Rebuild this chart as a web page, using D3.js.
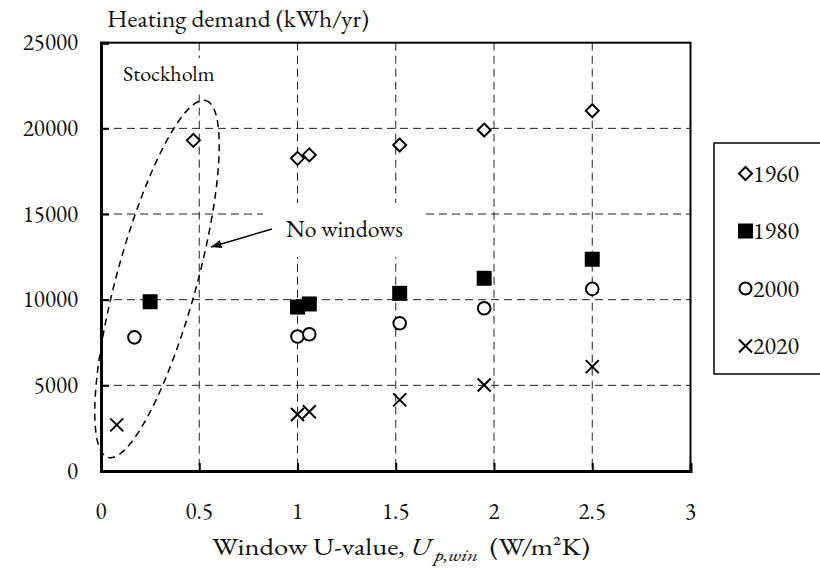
<!DOCTYPE html>
<meta charset="utf-8">
<html>
<head>
  <title>Heating demand vs window U-value</title>
  <style>
    body { margin: 0; background: #fff; }
    text { font-family: "EB Garamond", "Liberation Serif", "DejaVu Serif", serif; fill: #111; }
  </style>
</head>
<body>
  <svg id="chart" width="820" height="571"></svg>

  <script src="https://d3js.org/d3.v7.min.js"></script>
  <script>

    // Data
    var years = ["1960", "1980", "2000", "2020"];
    var uValues1960 = [0.47, 1.0, 1.06, 1.52, 1.95, 2.5];
    var demand1960 = [19300, 18250, 18450, 19030, 19900, 21030];
    var uValues1980 = [0.25, 1.0, 1.06, 1.52, 1.95, 2.5];
    var demand1980 = [9880, 9570, 9750, 10370, 11250, 12360];
    var uValues2000 = [0.17, 1.0, 1.06, 1.52, 1.95, 2.5];
    var demand2000 = [7800, 7850, 7980, 8620, 9500, 10630];
    var uValues2020 = [0.08, 1.0, 1.06, 1.52, 1.95, 2.5];
    var demand2020 = [2690, 3300, 3460, 4150, 5020, 6090];

    var xTicks = [0, 0.5, 1, 1.5, 2, 2.5, 3];
    var yTicks = [0, 5000, 10000, 15000, 20000, 25000];

    var series = [
      { name: years[0], shape: "diamond", u: uValues1960, q: demand1960 },
      { name: years[1], shape: "square",  u: uValues1980, q: demand1980 },
      { name: years[2], shape: "circle",  u: uValues2000, q: demand2000 },
      { name: years[3], shape: "cross",   u: uValues2020, q: demand2020 }
    ];

    var svg = d3.select("#chart");

    var x = d3.scaleLinear().domain([0, 3]).range([101, 690.5]);
    var y = d3.scaleLinear().domain([0, 25000]).range([471, 42.7]);

    // grid
    svg.append("g")
      .selectAll("line")
      .data(xTicks.slice(1, -1))
      .enter()
      .append("line")
      .attr("x1", function (d) { return x(d) })
      .attr("x2", function (d) { return x(d) })
      .attr("y1", y(25000))
      .attr("y2", y(0))
      .attr("stroke", "#222")
      .attr("stroke-width", 1)
      .style("stroke-dasharray", "8,5")

    svg.append("g")
      .selectAll("line")
      .data(yTicks.slice(1, -1))
      .enter()
      .append("line")
      .attr("x1", x(0))
      .attr("x2", x(3))
      .attr("y1", function (d) { return y(d) })
      .attr("y2", function (d) { return y(d) })
      .attr("stroke", "#222")
      .attr("stroke-width", 1)
      .style("stroke-dasharray", "8,5")

    // white boxes behind the labels inside the plot
    svg.append("rect")
      .attr("x", 263).attr("y", 203)
      .attr("width", 160).attr("height", 54)
      .attr("fill", "#fff")
    svg.append("rect")
      .attr("x", 115).attr("y", 58)
      .attr("width", 112).attr("height", 34)
      .attr("fill", "#fff")

    // frame
    svg.append("rect")
      .attr("x", x(0)).attr("y", y(25000))
      .attr("width", x(3) - x(0)).attr("height", y(0) - y(25000))
      .attr("fill", "none")
      .attr("stroke", "#000")
      .attr("stroke-width", 2)

    // axes (inward ticks)
    var xAxis = svg.append("g")
      .attr("transform", "translate(0," + y(0) + ")")
      .call(d3.axisTop(x).tickValues(xTicks).tickSize(8).tickFormat(""))
    xAxis.select(".domain").attr("stroke-width", 3)
    xAxis.selectAll(".tick line").attr("stroke-width", 2)

    var yAxis = svg.append("g")
      .attr("transform", "translate(" + x(0) + ",0)")
      .call(d3.axisRight(y).tickValues(yTicks).tickSize(8).tickFormat(""))
    yAxis.select(".domain").attr("stroke-width", 3)
    yAxis.selectAll(".tick line").attr("stroke-width", 2)

    // tick labels
    svg.append("g")
      .selectAll("text")
      .data(xTicks)
      .enter()
      .append("text")
      .attr("x", function (d) { return x(d) })
      .attr("y", 519)
      .attr("text-anchor", "middle")
      .style("font-size", "23px")
      .text(function (d) { return d })

    svg.append("g")
      .selectAll("text")
      .data(yTicks)
      .enter()
      .append("text")
      .attr("x", 78)
      .attr("y", function (d) { return y(d) + 7.5 })
      .attr("text-anchor", "end")
      .style("font-size", "23px")
      .text(function (d) { return d })

    // titles
    svg.append("text")
      .attr("x", 107).attr("y", 27)
      .style("font-size", "23px")
      .attr("textLength", 262)
      .attr("lengthAdjust", "spacingAndGlyphs")
      .text("Heating demand (kWh/yr)")

    var xt = svg.append("text")
      .attr("x", 212).attr("y", 555)
      .style("font-size", "23px")
      .attr("textLength", 378)
      .attr("lengthAdjust", "spacingAndGlyphs")
    xt.append("tspan").text("Window U-value, ")
    xt.append("tspan").style("font-style", "italic").text("U")
    xt.append("tspan").style("font-style", "italic").style("font-size", "17px")
      .attr("dy", 6).attr("dx", 3).text("p,win")
    xt.append("tspan").attr("dy", -6).text("\u00a0\u00a0(W/m\u00b2K)")

    // annotations
    svg.append("text")
      .attr("x", 123).attr("y", 81)
      .style("font-size", "22px")
      .text("Stockholm")

    svg.append("text")
      .attr("x", 286).attr("y", 237)
      .style("font-size", "23px")
      .attr("textLength", 117)
      .attr("lengthAdjust", "spacingAndGlyphs")
      .text("No windows")

    svg.append("defs").append("marker")
      .attr("id", "arrow")
      .attr("viewBox", "0 0 10 10")
      .attr("refX", 10).attr("refY", 5)
      .attr("markerWidth", 7).attr("markerHeight", 7)
      .attr("orient", "auto")
      .append("path")
      .attr("d", "M0,1 L10,5 L0,9 Z")
      .attr("fill", "#000")

    svg.append("line")
      .attr("x1", 272).attr("y1", 229)
      .attr("x2", 211).attr("y2", 247)
      .attr("stroke", "#000")
      .attr("stroke-width", 1.5)
      .attr("marker-end", "url(#arrow)")

    svg.append("ellipse")
      .attr("cx", 0).attr("cy", 0)
      .attr("rx", 185).attr("ry", 40)
      .attr("transform", "translate(157,279) rotate(-74.7)")
      .attr("fill", "none")
      .attr("stroke", "#000")
      .attr("stroke-width", 1.5)
      .style("stroke-dasharray", "7,5")

    // markers
    function drawMarker(g, shape, s) {
      if (shape === "diamond") {
        g.append("path")
          .attr("d", "M0," + (-s) + "L" + s + ",0L0," + s + "L" + (-s) + ",0Z")
          .attr("fill", "#fff").attr("stroke", "#000").attr("stroke-width", 2)
      } else if (shape === "square") {
        g.append("rect")
          .attr("x", -s).attr("y", -s).attr("width", 2 * s).attr("height", 2 * s)
          .attr("fill", "#000")
      } else if (shape === "circle") {
        g.append("circle")
          .attr("r", s - 0.5)
          .attr("fill", "#fff").attr("stroke", "#000").attr("stroke-width", 2)
      } else {
        g.append("path")
          .attr("d", "M" + (-s) + "," + (-s) + "L" + s + "," + s + "M" + s + "," + (-s) + "L" + (-s) + "," + s)
          .attr("stroke", "#000").attr("stroke-width", 2)
      }
    }

    var sizes = { diamond: 6.5, square: 7.5, circle: 6.8, cross: 6.5 };

    series.forEach(function (sr) {
      sr.u.forEach(function (u, i) {
        var g = svg.append("g")
          .attr("transform", "translate(" + x(u) + "," + y(sr.q[i]) + ")")
        drawMarker(g, sr.shape, sizes[sr.shape])
      })
    })

    // legend
    svg.append("rect")
      .attr("x", 714).attr("y", 143)
      .attr("width", 130).attr("height", 231)
      .attr("fill", "#fff")
      .attr("stroke", "#000")
      .attr("stroke-width", 1.5)

    var legendY = d3.scalePoint().domain(years).range([173.5, 346])

    series.forEach(function (sr) {
      var g = svg.append("g")
        .attr("transform", "translate(745.5," + legendY(sr.name) + ")")
      drawMarker(g, sr.shape, sr.shape === "square" ? 7.5 : 6.5)
      svg.append("text")
        .attr("x", 753).attr("y", legendY(sr.name) + 8)
        .style("font-size", "24px")
        .text(sr.name)
    })

  </script>
</body>
</html>
